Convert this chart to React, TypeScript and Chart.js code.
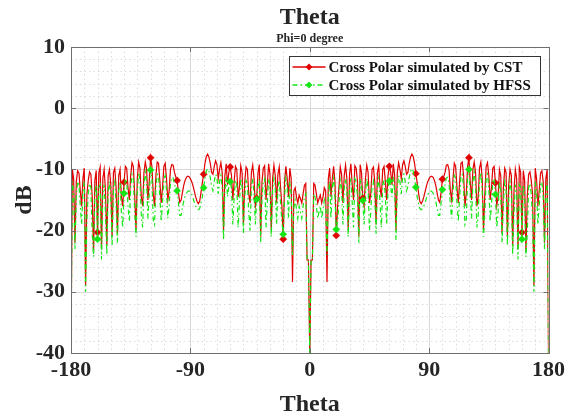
import React, { useEffect, useRef } from "react";
import { Chart, registerables } from "chart.js";

Chart.register(...registerables);

// Sample positions: theta from -180 to 180 in 1 degree steps
const THETA_START = -180;
const THETA_STEP = 1;

// Cross polar simulated by CST (dB), theta = -180 .. 180
const cstDb = [
  -40, -10.0, -11.5, -22.0, -12.0, -10.2, -10.6, -13.5, -16.0, -11.5,
  -9.8, -29.0, -14.0, -11.8, -10.4, -10.8, -14.5, -23.5, -11.8, -10.2,
  -20.3, -10.5, -9.6, -23.0, -11.5, -10.0, -13.5, -22.5, -11.0, -10.0,
  -12.5, -21.0, -10.5, -9.8, -13.0, -20.5, -11.0, -10.0, -14.5, -16.0,
  -12.1, -9.5, -9.8, -13.0, -15.0, -11.0, -8.9, -9.5, -14.0, -20.0,
  -11.5, -8.8, -9.8, -14.5, -16.0, -10.5, -8.8, -10.0, -15.0, -12.0,
  -8.1, -9.5, -14.0, -16.0, -11.0, -8.8, -9.0, -12.0, -15.5, -13.0,
  -9.5, -9.0, -11.5, -15.0, -13.5, -10.0, -9.2, -9.3, -10.5, -11.2,
  -11.8, -13.8, -15.4, -15.0, -13.8, -12.6, -11.8, -11.3, -11.1, -11.2,
  -11.5, -12.0, -12.7, -13.6, -14.5, -15.2, -15.6, -15.2, -13.8, -12.2,
  -10.8, -9.0, -7.9, -7.5, -8.0, -9.0, -10.5, -10.8, -9.5, -8.6,
  -9.2, -11.5, -10.0, -8.9, -10.5, -20.0, -11.0, -9.1, -12.5, -10.5,
  -9.6, -11.0, -15.0, -12.0, -9.5, -10.0, -14.5, -13.0, -9.4, -10.5,
  -19.0, -12.0, -9.6, -10.0, -14.0, -15.5, -10.5, -9.3, -11.5, -16.0,
  -14.7, -10.5, -9.2, -21.0, -12.0, -9.8, -9.4, -15.0, -12.5, -9.1,
  -10.8, -20.0, -11.5, -9.3, -11.0, -15.5, -10.8, -9.6, -13.0, -16.0,
  -21.4, -12.0, -9.5, -11.5, -14.5, -9.8, -11.5, -28.4, -13.5, -13.0,
  -14.5, -15.5, -14.2, -14.8, -15.5, -14.0, -12.6, -12.3, -24.8, -24.8,
  -40,
  -24.8, -24.8, -12.3, -12.6, -14.0, -15.5, -14.8, -14.2, -15.5, -14.5,
  -13.0, -13.5, -28.4, -11.5, -9.8, -14.5, -11.5, -9.5, -12.0, -20.8,
  -16.0, -13.0, -9.6, -10.8, -15.5, -11.0, -9.3, -11.5, -20.0, -10.8,
  -9.1, -12.5, -15.0, -9.4, -9.8, -12.0, -21.0, -9.2, -10.5, -14.7,
  -16.0, -11.5, -9.3, -10.5, -15.5, -14.0, -10.0, -9.6, -12.0, -19.0,
  -10.5, -9.4, -13.0, -14.5, -10.0, -9.5, -12.0, -15.0, -11.0, -9.5,
  -10.5, -12.5, -9.1, -11.0, -20.0, -10.5, -8.9, -10.0, -11.5, -9.2,
  -8.6, -9.5, -10.8, -10.5, -9.0, -8.0, -7.5, -7.9, -9.0, -10.7,
  -12.2, -13.8, -15.2, -15.6, -15.2, -14.5, -13.6, -12.7, -12.0, -11.5,
  -11.2, -11.1, -11.3, -11.8, -12.6, -13.8, -15.0, -15.4, -13.8, -11.6,
  -11.2, -10.5, -9.3, -9.2, -10.0, -13.5, -15.0, -11.5, -9.0, -9.5,
  -13.0, -15.5, -12.0, -9.0, -8.8, -11.0, -16.0, -14.0, -9.5, -8.1,
  -12.0, -15.0, -10.0, -8.8, -10.5, -16.0, -14.5, -9.8, -8.8, -11.5,
  -20.0, -14.0, -9.5, -8.9, -11.0, -15.0, -13.0, -9.8, -9.5, -12.2,
  -16.0, -14.5, -10.0, -11.0, -20.5, -13.0, -9.8, -10.5, -21.0, -12.5,
  -10.0, -11.0, -22.5, -13.5, -10.0, -11.5, -23.0, -9.6, -10.5, -20.3,
  -10.2, -11.8, -23.5, -14.5, -10.8, -10.4, -11.8, -14.0, -29.0, -9.8,
  -11.5, -16.0, -13.5, -10.6, -10.2, -12.0, -22.0, -11.5, -10.0, -40,
];

// Cross polar simulated by HFSS (dB), theta = -180 .. 180
const hfssDb = [
  -40, -12.0, -14.0, -23.0, -14.5, -12.0, -12.5, -16.0, -19.0, -13.5,
  -12.0, -30.0, -18.0, -14.0, -12.3, -13.0, -20.5, -24.3, -14.0, -12.5,
  -21.4, -13.0, -12.5, -24.7, -14.0, -12.5, -17.0, -24.0, -13.5, -12.0,
  -15.0, -22.5, -13.0, -12.0, -15.5, -22.0, -13.5, -12.0, -17.0, -19.5,
  -13.9, -11.5, -12.0, -16.0, -18.5, -13.0, -10.8, -11.5, -17.0, -21.0,
  -13.5, -10.5, -11.8, -17.5, -19.5, -12.5, -10.5, -12.0, -18.0, -14.0,
  -10.1, -11.5, -18.3, -19.0, -13.0, -10.8, -11.0, -14.5, -18.5, -15.5,
  -11.5, -11.0, -13.5, -18.0, -16.0, -12.2, -11.3, -11.4, -12.5, -13.0,
  -13.5, -15.5, -17.5, -17.5, -16.3, -15.2, -14.4, -13.9, -13.6, -13.5,
  -13.7, -14.1, -14.7, -15.4, -16.0, -16.4, -16.6, -16.4, -15.5, -14.5,
  -13.0, -11.5, -10.3, -9.9, -10.3, -11.3, -12.8, -13.5, -12.0, -10.8,
  -11.2, -14.0, -12.0, -11.0, -13.0, -21.6, -13.5, -11.2, -14.5, -12.8,
  -12.0, -13.0, -19.0, -14.5, -11.8, -12.5, -19.5, -15.5, -11.5, -12.8,
  -20.5, -14.5, -11.8, -12.3, -17.0, -20.0, -13.0, -11.5, -14.0, -19.0,
  -14.9, -12.8, -11.5, -22.0, -14.5, -12.0, -11.5, -19.5, -15.5, -11.5,
  -13.0, -21.0, -13.5, -11.5, -13.0, -19.0, -13.0, -11.8, -15.5, -18.5,
  -20.6, -14.5, -11.5, -12.8, -18.0, -12.0, -14.0, -24.0, -16.2, -15.0,
  -16.5, -18.0, -16.0, -17.0, -18.0, -16.0, -14.5, -14.0, -24.8, -24.8,
  -40,
  -24.8, -24.8, -14.0, -14.5, -16.0, -18.0, -17.0, -16.0, -18.0, -16.5,
  -15.0, -16.2, -24.0, -14.0, -12.0, -18.0, -12.8, -11.5, -14.5, -19.8,
  -18.5, -15.5, -11.8, -13.0, -19.0, -13.0, -11.5, -13.5, -21.0, -13.0,
  -11.5, -15.5, -19.5, -11.5, -12.0, -14.5, -22.0, -11.5, -12.8, -15.1,
  -19.0, -14.0, -11.5, -13.0, -20.0, -17.0, -12.3, -11.8, -14.5, -20.5,
  -12.8, -11.5, -15.5, -19.5, -12.5, -11.8, -14.5, -19.0, -13.0, -11.9,
  -12.8, -14.5, -11.2, -13.5, -21.6, -13.0, -11.0, -12.0, -14.0, -11.2,
  -10.8, -12.0, -13.5, -12.8, -11.3, -10.3, -9.9, -10.3, -11.5, -12.9,
  -14.5, -15.5, -16.4, -16.6, -16.4, -16.0, -15.4, -14.7, -14.1, -13.7,
  -13.5, -13.6, -13.9, -14.4, -15.2, -16.3, -17.5, -17.5, -15.5, -13.3,
  -13.0, -12.5, -11.4, -11.3, -12.2, -16.0, -18.0, -13.5, -11.0, -11.5,
  -15.5, -18.5, -14.5, -11.0, -10.8, -13.0, -19.0, -18.3, -11.5, -10.0,
  -14.0, -18.0, -12.0, -10.5, -12.5, -19.5, -17.5, -11.8, -10.5, -13.5,
  -21.0, -17.0, -11.5, -10.8, -13.0, -18.5, -16.0, -12.0, -11.5, -14.1,
  -19.5, -17.0, -12.0, -13.5, -22.0, -15.5, -12.0, -13.0, -22.5, -15.0,
  -12.0, -13.5, -24.0, -17.0, -12.5, -14.0, -24.7, -12.5, -13.0, -21.4,
  -12.5, -14.0, -24.3, -20.5, -13.0, -12.3, -14.0, -18.0, -30.0, -12.0,
  -13.5, -19.0, -16.0, -12.5, -12.0, -14.5, -23.0, -14.0, -12.0, -40,
];

const markerTheta = [
  -160, -140, -120, -100, -80, -60, -40, -20,
  20, 40, 60, 80, 100, 120, 140, 160,
];

const xTickValues = [-180, -90, 0, 90, 180];
const yTickValues = [-40, -30, -20, -10, 0, 10];
const xMinorStep = 10;
const yMinorStep = 2;

const seriesLabels = ["Cross Polar simulated by CST", "Cross Polar simulated by HFSS"];
const titleText = "Theta";
const subtitleText = "Phi=0 degree";
const xAxisLabel = "Theta";
const yAxisLabel = "dB";

const FONT = '"Liberation Serif", "Times New Roman", serif';
const RED = "#e00000";
const GREEN = "#14e614";
const GREEN_DASH = [5, 3, 1.5, 3];
const TEXT = "#262626";
const AXIS = "#6e6e6e";

function toPoints(values: number[]) {
  return values.map((v, i) => ({ x: THETA_START + i * THETA_STEP, y: v }));
}

function markerRadius(ctx: any) {
  const raw = ctx.raw as { x: number } | undefined;
  if (!raw) return 0;
  return markerTheta.includes(raw.x) ? 3.6 : 0;
}

const decorPlugin = {
  id: "matlabDecor",
  beforeDatasetsDraw(chart: any) {
    const { ctx, chartArea } = chart;
    const xs = chart.scales.x;
    const ys = chart.scales.y;
    const { left, right, top, bottom } = chartArea;
    ctx.save();
    ctx.lineWidth = 1;
    // minor dotted grid
    ctx.strokeStyle = "#dcdcdc";
    ctx.setLineDash([1.5, 3]);
    for (let v = xs.min; v <= xs.max; v += xMinorStep) {
      if (xTickValues.includes(v)) continue;
      const px = Math.round(xs.getPixelForValue(v)) + 0.5;
      ctx.beginPath();
      ctx.moveTo(px, top);
      ctx.lineTo(px, bottom);
      ctx.stroke();
    }
    for (let v = ys.min; v <= ys.max; v += yMinorStep) {
      if (yTickValues.includes(v)) continue;
      const py = Math.round(ys.getPixelForValue(v)) + 0.5;
      ctx.beginPath();
      ctx.moveTo(left, py);
      ctx.lineTo(right, py);
      ctx.stroke();
    }
    // major solid grid
    ctx.setLineDash([]);
    ctx.strokeStyle = "#d8d8d8";
    xTickValues.forEach((v) => {
      const px = Math.round(xs.getPixelForValue(v)) + 0.5;
      ctx.beginPath();
      ctx.moveTo(px, top);
      ctx.lineTo(px, bottom);
      ctx.stroke();
    });
    yTickValues.forEach((v) => {
      const py = Math.round(ys.getPixelForValue(v)) + 0.5;
      ctx.beginPath();
      ctx.moveTo(left, py);
      ctx.lineTo(right, py);
      ctx.stroke();
    });
    ctx.restore();
  },
  afterDatasetsDraw(chart: any) {
    const { ctx, chartArea } = chart;
    const xs = chart.scales.x;
    const ys = chart.scales.y;
    const { left, right, top, bottom } = chartArea;
    ctx.save();
    ctx.strokeStyle = AXIS;
    ctx.lineWidth = 1;
    ctx.setLineDash([]);
    ctx.strokeRect(Math.round(left) + 0.5, Math.round(top) + 0.5, Math.round(right - left), Math.round(bottom - top));
    const tl = 5;
    xTickValues.forEach((v) => {
      const px = Math.round(xs.getPixelForValue(v)) + 0.5;
      ctx.beginPath();
      ctx.moveTo(px, bottom);
      ctx.lineTo(px, bottom - tl);
      ctx.moveTo(px, top);
      ctx.lineTo(px, top + tl);
      ctx.stroke();
    });
    yTickValues.forEach((v) => {
      const py = Math.round(ys.getPixelForValue(v)) + 0.5;
      ctx.beginPath();
      ctx.moveTo(left, py);
      ctx.lineTo(left + tl, py);
      ctx.moveTo(right, py);
      ctx.lineTo(right - tl, py);
      ctx.stroke();
    });
    ctx.restore();
  },
  afterDraw(chart: any) {
    const { ctx, chartArea } = chart;
    const { left, right, top, bottom } = chartArea;
    const cx = (left + right) / 2;
    ctx.save();
    ctx.fillStyle = TEXT;
    ctx.textAlign = "center";
    ctx.textBaseline = "alphabetic";
    ctx.font = `bold 24px ${FONT}`;
    ctx.fillText(titleText, cx, 24);
    ctx.font = `bold 12px ${FONT}`;
    ctx.fillText(subtitleText, cx, 42);
    ctx.font = `bold 24px ${FONT}`;
    ctx.fillText(xAxisLabel, cx, 411);
    ctx.save();
    ctx.translate(31, (top + bottom) / 2);
    ctx.rotate(-Math.PI / 2);
    ctx.fillText(yAxisLabel, 0, 0);
    ctx.restore();

    // legend box
    const bw = 251;
    const bh = 39;
    const bx = Math.round(right - 9 - bw) + 0.5;
    const by = Math.round(top + 9) + 0.5;
    ctx.fillStyle = "#ffffff";
    ctx.fillRect(bx, by, bw, bh);
    ctx.strokeStyle = "#333333";
    ctx.lineWidth = 1;
    ctx.strokeRect(bx, by, bw, bh);
    const rows = [
      { y: by + 10.5, color: RED, dash: [] as number[], label: seriesLabels[0] },
      { y: by + 28.5, color: GREEN, dash: GREEN_DASH, label: seriesLabels[1] },
    ];
    rows.forEach((r) => {
      ctx.strokeStyle = r.color;
      ctx.lineWidth = 1.3;
      ctx.setLineDash(r.dash);
      ctx.beginPath();
      ctx.moveTo(bx + 3, r.y);
      ctx.lineTo(bx + 36, r.y);
      ctx.stroke();
      ctx.setLineDash([]);
      ctx.fillStyle = r.color;
      const mx = bx + 19.5;
      const s = 3.4;
      ctx.beginPath();
      ctx.moveTo(mx, r.y - s);
      ctx.lineTo(mx + s, r.y);
      ctx.lineTo(mx, r.y + s);
      ctx.lineTo(mx - s, r.y);
      ctx.closePath();
      ctx.fill();
      ctx.fillStyle = "#111111";
      ctx.font = `bold 15px ${FONT}`;
      ctx.textAlign = "left";
      ctx.textBaseline = "middle";
      ctx.fillText(r.label, bx + 39, r.y + 1);
    });
    ctx.restore();
  },
};

export default function App() {
  const canvasRef = useRef<HTMLCanvasElement | null>(null);

  useEffect(() => {
    if (!canvasRef.current) return;
    const chart = new Chart(canvasRef.current, {
      type: "line",
      data: {
        datasets: [
          {
            label: seriesLabels[0],
            data: toPoints(cstDb),
            borderColor: RED,
            backgroundColor: RED,
            borderWidth: 1.2,
            pointStyle: "rectRot",
            pointRadius: markerRadius,
            pointHoverRadius: 0,
            pointBackgroundColor: RED,
            pointBorderColor: RED,
            pointBorderWidth: 0.5,
            tension: 0,
            order: 2,
          },
          {
            label: seriesLabels[1],
            data: toPoints(hfssDb),
            borderColor: GREEN,
            backgroundColor: GREEN,
            borderWidth: 1.2,
            borderDash: GREEN_DASH,
            pointStyle: "rectRot",
            pointRadius: markerRadius,
            pointHoverRadius: 0,
            pointBackgroundColor: GREEN,
            pointBorderColor: GREEN,
            pointBorderWidth: 0.5,
            tension: 0,
            order: 1,
          },
        ],
      },
      options: {
        animation: false,
        responsive: false,
        maintainAspectRatio: false,
        events: [],
        layout: { padding: { top: 47, right: 16, bottom: 0, left: 0 } },
        plugins: {
          legend: { display: false },
          title: { display: false },
          tooltip: { enabled: false },
        },
        scales: {
          x: {
            type: "linear",
            min: -180,
            max: 180,
            grid: { display: false, drawTicks: false },
            border: { display: false },
            afterFit: (s: any) => {
              s.height = 63;
            },
            afterBuildTicks: (s: any) => {
              s.ticks = xTickValues.map((v) => ({ value: v }));
            },
            ticks: {
              padding: 4,
              color: TEXT,
              maxRotation: 0,
              autoSkip: false,
              font: { family: FONT, size: 22, weight: "bold" },
              callback: (v: any) => String(v),
            },
          },
          y: {
            type: "linear",
            min: -40,
            max: 10,
            grid: { display: false, drawTicks: false },
            border: { display: false },
            afterFit: (s: any) => {
              s.width = 71;
            },
            afterBuildTicks: (s: any) => {
              s.ticks = yTickValues.map((v) => ({ value: v }));
            },
            ticks: {
              padding: 6,
              color: TEXT,
              autoSkip: false,
              font: { family: FONT, size: 22, weight: "bold" },
              callback: (v: any) => String(v),
            },
          },
        },
      },
      plugins: [decorPlugin],
    });
    return () => chart.destroy();
  }, []);

  return (
    <div
      style={{
        position: "fixed",
        left: 0,
        top: 0,
        width: 569,
        height: 416,
        background: "#ffffff",
      }}
    >
      <canvas ref={canvasRef} width={569} height={416} style={{ width: 569, height: 416, display: "block" }} />
    </div>
  );
}
